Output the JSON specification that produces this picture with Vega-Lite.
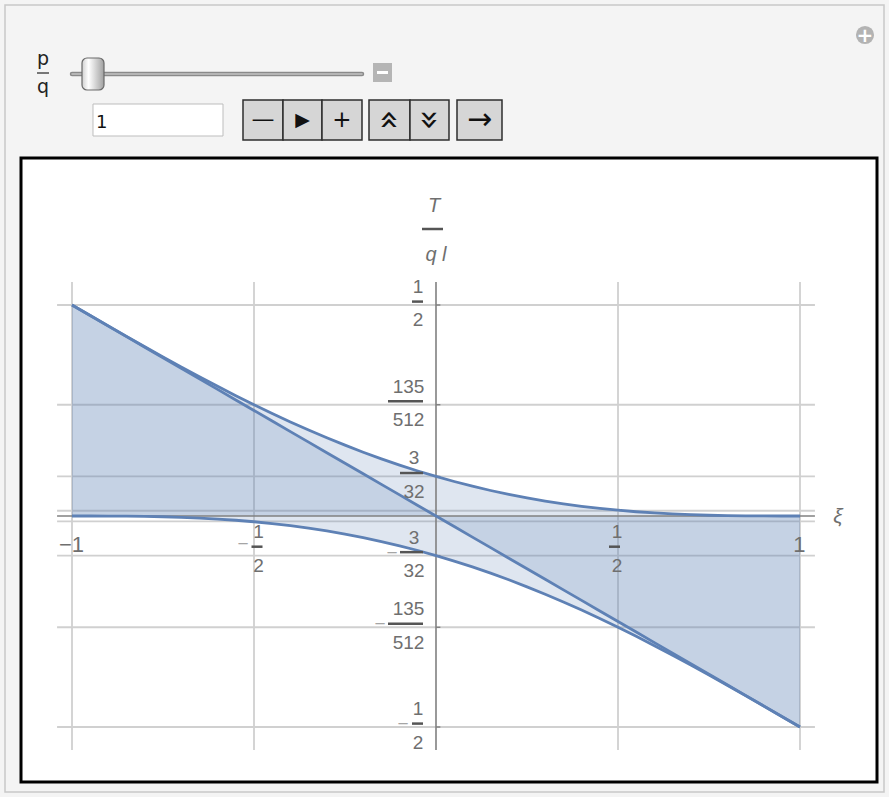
{
  "$schema": "https://vega.github.io/schema/vega-lite/v6.json",
  "width": 856,
  "height": 624,
  "autosize": {"type": "none"},
  "padding": {"left": 21, "top": 158, "right": 12, "bottom": 15},
  "background": "#f4f4f4",
  "config": {"view": {"fill": "white", "stroke": "black", "strokeWidth": 3}, "font": "Liberation Sans"},
  "datasets": {
    "curves": [
      {"xi": -1.0, "upper": 0.5, "lower": 0, "line": 0.5},
      {"xi": -0.95, "upper": 0.47502, "lower": -0.00002, "line": 0.475},
      {"xi": -0.9, "upper": 0.45012, "lower": -0.00012, "line": 0.45},
      {"xi": -0.85, "upper": 0.42541, "lower": -0.00041, "line": 0.425},
      {"xi": -0.8, "upper": 0.40095, "lower": -0.00095, "line": 0.4},
      {"xi": -0.75, "upper": 0.37683, "lower": -0.00183, "line": 0.375},
      {"xi": -0.7, "upper": 0.35312, "lower": -0.00312, "line": 0.35},
      {"xi": -0.65, "upper": 0.32989, "lower": -0.00489, "line": 0.325},
      {"xi": -0.6, "upper": 0.3072, "lower": -0.0072, "line": 0.3},
      {"xi": -0.55, "upper": 0.28511, "lower": -0.01011, "line": 0.275},
      {"xi": -0.5, "upper": 0.26367, "lower": -0.01367, "line": 0.25},
      {"xi": -0.45, "upper": 0.24294, "lower": -0.01794, "line": 0.225},
      {"xi": -0.4, "upper": 0.22295, "lower": -0.02295, "line": 0.2},
      {"xi": -0.35, "upper": 0.20375, "lower": -0.02875, "line": 0.175},
      {"xi": -0.3, "upper": 0.18537, "lower": -0.03537, "line": 0.15},
      {"xi": -0.25, "upper": 0.16785, "lower": -0.04285, "line": 0.125},
      {"xi": -0.2, "upper": 0.1512, "lower": -0.0512, "line": 0.1},
      {"xi": -0.15, "upper": 0.13545, "lower": -0.06045, "line": 0.075},
      {"xi": -0.1, "upper": 0.12062, "lower": -0.07062, "line": 0.05},
      {"xi": -0.05, "upper": 0.10672, "lower": -0.08172, "line": 0.025},
      {"xi": 0.0, "upper": 0.09375, "lower": -0.09375, "line": 0},
      {"xi": 0.05, "upper": 0.08172, "lower": -0.10672, "line": -0.025},
      {"xi": 0.1, "upper": 0.07062, "lower": -0.12062, "line": -0.05},
      {"xi": 0.15, "upper": 0.06045, "lower": -0.13545, "line": -0.075},
      {"xi": 0.2, "upper": 0.0512, "lower": -0.1512, "line": -0.1},
      {"xi": 0.25, "upper": 0.04285, "lower": -0.16785, "line": -0.125},
      {"xi": 0.3, "upper": 0.03537, "lower": -0.18537, "line": -0.15},
      {"xi": 0.35, "upper": 0.02875, "lower": -0.20375, "line": -0.175},
      {"xi": 0.4, "upper": 0.02295, "lower": -0.22295, "line": -0.2},
      {"xi": 0.45, "upper": 0.01794, "lower": -0.24294, "line": -0.225},
      {"xi": 0.5, "upper": 0.01367, "lower": -0.26367, "line": -0.25},
      {"xi": 0.55, "upper": 0.01011, "lower": -0.28511, "line": -0.275},
      {"xi": 0.6, "upper": 0.0072, "lower": -0.3072, "line": -0.3},
      {"xi": 0.65, "upper": 0.00489, "lower": -0.32989, "line": -0.325},
      {"xi": 0.7, "upper": 0.00312, "lower": -0.35312, "line": -0.35},
      {"xi": 0.75, "upper": 0.00183, "lower": -0.37683, "line": -0.375},
      {"xi": 0.8, "upper": 0.00095, "lower": -0.40095, "line": -0.4},
      {"xi": 0.85, "upper": 0.00041, "lower": -0.42541, "line": -0.425},
      {"xi": 0.9, "upper": 0.00012, "lower": -0.45012, "line": -0.45},
      {"xi": 0.95, "upper": 0.00002, "lower": -0.47502, "line": -0.475},
      {"xi": 1.0, "upper": 0, "lower": -0.5, "line": -0.5}
    ],
    "vgrid": [{"xi": -1}, {"xi": -0.5}, {"xi": 0.5}, {"xi": 1}],
    "hgrid": [{"t": 0.5}, {"t": 0.263672}, {"t": 0.09375}, {"t": 0.0125}, {"t": -0.0125}, {"t": -0.09375}, {"t": -0.263672}, {"t": -0.5}],
    "yticks": [
      {"t": 0.5, "frac": "1\n2", "kind": "s", "sign": ""},
      {"t": 0.263672, "frac": "135\n512", "kind": "l", "sign": ""},
      {"t": 0.09375, "frac": "3\n32", "kind": "m", "sign": ""},
      {"t": -0.09375, "frac": "3\n32", "kind": "m", "sign": "−"},
      {"t": -0.263672, "frac": "135\n512", "kind": "l", "sign": "−"},
      {"t": -0.5, "frac": "1\n2", "kind": "s", "sign": "−"}
    ],
    "xticks": [
      {"xi": -1, "label": "−1", "kind": "int", "sign": ""},
      {"xi": 1, "label": "1", "kind": "int", "sign": ""},
      {"xi": -0.5, "label": "1\n2", "kind": "negfrac", "sign": "−"},
      {"xi": 0.5, "label": "1\n2", "kind": "posfrac", "sign": ""}
    ],
    "titles": [{"ytop": "T", "ybottom": "q l", "xname": "ξ"}],
    "ui_boxes": [
      {"part": "panel", "x1": -1.18407, "x2": 1.23077, "y1": 1.2109, "y2": -0.65403},
      {"part": "input", "x1": -0.94231, "x2": -0.58516, "y1": 0.9763, "y2": 0.90047},
      {"part": "button", "x1": -0.53022, "x2": -0.42033, "y1": 0.98578, "y2": 0.891},
      {"part": "button", "x1": -0.42033, "x2": -0.31319, "y1": 0.98578, "y2": 0.891},
      {"part": "button", "x1": -0.31319, "x2": -0.2033, "y1": 0.98578, "y2": 0.891},
      {"part": "button", "x1": -0.18407, "x2": -0.07143, "y1": 0.98578, "y2": 0.891},
      {"part": "button", "x1": -0.07143, "x2": 0.03571, "y1": 0.98578, "y2": 0.891},
      {"part": "button", "x1": 0.05769, "x2": 0.18132, "y1": 0.98578, "y2": 0.891},
      {"part": "minusbox", "x1": -0.17308, "x2": -0.12088, "y1": 1.07346, "y2": 1.02844},
      {"part": "thumb", "x1": -0.97253, "x2": -0.91209, "y1": 1.08531, "y2": 1.00948}
    ],
    "ui_lines": [
      {"part": "track", "x1": -1.0, "x2": -0.2033, "y": 1.04739},
      {"part": "underline", "x1": -1.09615, "x2": -1.06319, "y": 1.04976},
      {"part": "dash", "x1": -0.16209, "x2": -0.13187, "y": 1.05095}
    ],
    "ui_text": [
      {"part": "label", "txt": "p", "x": -1.07967, "y": 1.06872},
      {"part": "label", "txt": "q", "x": -1.07967, "y": 1.00237},
      {"part": "value", "txt": "1", "x": -0.93407, "y": 0.91943},
      {"part": "glyph", "txt": "—", "x": -0.47527, "y": 0.93839},
      {"part": "play", "txt": "▶", "x": -0.36676, "y": 0.93839},
      {"part": "glyph", "txt": "+", "x": -0.25824, "y": 0.93839},
      {"part": "chev", "txt": "«", "x": -0.12775, "y": 0.93839},
      {"part": "chev", "txt": "»", "x": -0.01786, "y": 0.93839},
      {"part": "arrow", "txt": "→", "x": 0.11951, "y": 0.93839},
      {"part": "plus", "txt": "+", "x": 1.17857, "y": 1.13981}
    ]
  },
  "layer": [
    {
      "data": {"name": "vgrid"},
      "mark": {"type": "rule", "color": "#d0d0d0", "strokeWidth": 1.8},
      "encoding": {
        "x": {"field": "xi", "type": "quantitative", "scale": {"domain": [-1.14011, 1.21154], "nice": false, "zero": false}, "axis": null},
        "y": {"datum": 0.5545, "type": "quantitative", "scale": {"domain": [-0.63033, 0.84834], "nice": false, "zero": false}, "axis": null},
        "y2": {"datum": -0.5545}
      }
    },
    {
      "data": {"name": "hgrid"},
      "mark": {"type": "rule", "color": "#d0d0d0", "strokeWidth": 1.8},
      "encoding": {
        "x": {"datum": -1.041, "type": "quantitative", "scale": {"domain": [-1.14011, 1.21154], "nice": false, "zero": false}, "axis": null},
        "x2": {"datum": 1.041},
        "y": {"field": "t", "type": "quantitative", "scale": {"domain": [-0.63033, 0.84834], "nice": false, "zero": false}, "axis": null}
      }
    },
    {
      "data": {"name": "curves"},
      "mark": {"type": "area", "color": "#5e81b5", "opacity": 0.2},
      "encoding": {
        "x": {"field": "xi", "type": "quantitative", "scale": {"domain": [-1.14011, 1.21154], "nice": false, "zero": false}, "axis": null},
        "y": {"field": "upper", "type": "quantitative", "scale": {"domain": [-0.63033, 0.84834], "nice": false, "zero": false}, "axis": null},
        "y2": {"datum": 0}
      }
    },
    {
      "data": {"name": "curves"},
      "mark": {"type": "area", "color": "#5e81b5", "opacity": 0.2},
      "encoding": {
        "x": {"field": "xi", "type": "quantitative", "scale": {"domain": [-1.14011, 1.21154], "nice": false, "zero": false}, "axis": null},
        "y": {"field": "lower", "type": "quantitative", "scale": {"domain": [-0.63033, 0.84834], "nice": false, "zero": false}, "axis": null},
        "y2": {"datum": 0}
      }
    },
    {
      "data": {"name": "curves"},
      "mark": {"type": "area", "color": "#5e81b5", "opacity": 0.2},
      "encoding": {
        "x": {"field": "xi", "type": "quantitative", "scale": {"domain": [-1.14011, 1.21154], "nice": false, "zero": false}, "axis": null},
        "y": {"field": "line", "type": "quantitative", "scale": {"domain": [-0.63033, 0.84834], "nice": false, "zero": false}, "axis": null},
        "y2": {"datum": 0}
      }
    },
    {
      "data": {"name": "titles"},
      "mark": {"type": "rule", "color": "#808080", "strokeWidth": 1.6},
      "encoding": {
        "x": {"datum": -1.041, "type": "quantitative", "scale": {"domain": [-1.14011, 1.21154], "nice": false, "zero": false}, "axis": null},
        "x2": {"datum": 1.041},
        "y": {"datum": 0, "type": "quantitative", "scale": {"domain": [-0.63033, 0.84834], "nice": false, "zero": false}, "axis": null}
      }
    },
    {
      "data": {"name": "titles"},
      "mark": {"type": "rule", "color": "#808080", "strokeWidth": 1.6},
      "encoding": {
        "x": {"datum": 0, "type": "quantitative", "scale": {"domain": [-1.14011, 1.21154], "nice": false, "zero": false}, "axis": null},
        "y": {"datum": 0.5545, "type": "quantitative", "scale": {"domain": [-0.63033, 0.84834], "nice": false, "zero": false}, "axis": null},
        "y2": {"datum": -0.5545}
      }
    },
    {
      "data": {"name": "yticks"},
      "mark": {"type": "rule", "color": "#808080", "strokeWidth": 1.4},
      "encoding": {
        "x": {"datum": 0, "type": "quantitative", "scale": {"domain": [-1.14011, 1.21154], "nice": false, "zero": false}, "axis": null},
        "x2": {"datum": 0.012},
        "y": {"field": "t", "type": "quantitative", "scale": {"domain": [-0.63033, 0.84834], "nice": false, "zero": false}, "axis": null}
      }
    },
    {
      "data": {"name": "curves"},
      "mark": {"type": "line", "color": "#5e81b5", "strokeWidth": 2.8},
      "encoding": {
        "x": {"field": "xi", "type": "quantitative", "scale": {"domain": [-1.14011, 1.21154], "nice": false, "zero": false}, "axis": null},
        "y": {"field": "upper", "type": "quantitative", "scale": {"domain": [-0.63033, 0.84834], "nice": false, "zero": false}, "axis": null}
      }
    },
    {
      "data": {"name": "curves"},
      "mark": {"type": "line", "color": "#5e81b5", "strokeWidth": 2.8},
      "encoding": {
        "x": {"field": "xi", "type": "quantitative", "scale": {"domain": [-1.14011, 1.21154], "nice": false, "zero": false}, "axis": null},
        "y": {"field": "lower", "type": "quantitative", "scale": {"domain": [-0.63033, 0.84834], "nice": false, "zero": false}, "axis": null}
      }
    },
    {
      "data": {"name": "curves"},
      "mark": {"type": "line", "color": "#5e81b5", "strokeWidth": 2.8},
      "encoding": {
        "x": {"field": "xi", "type": "quantitative", "scale": {"domain": [-1.14011, 1.21154], "nice": false, "zero": false}, "axis": null},
        "y": {"field": "line", "type": "quantitative", "scale": {"domain": [-0.63033, 0.84834], "nice": false, "zero": false}, "axis": null}
      }
    },
    {
      "data": {"name": "yticks"},
      "transform": [{"filter": "datum.kind == 's'"}],
      "mark": {"type": "text", "align": "center", "baseline": "alphabetic", "dx": -18, "dy": -12, "lineBreak": "\n", "lineHeight": 33.5, "fontSize": 19, "color": "#6f6f6f"},
      "encoding": {
        "x": {"datum": 0, "type": "quantitative", "scale": {"domain": [-1.14011, 1.21154], "nice": false, "zero": false}, "axis": null},
        "y": {"field": "t", "type": "quantitative", "scale": {"domain": [-0.63033, 0.84834], "nice": false, "zero": false}, "axis": null},
        "text": {"field": "frac"}
      }
    },
    {
      "data": {"name": "yticks"},
      "transform": [{"filter": "datum.kind == 'm'"}],
      "mark": {"type": "text", "align": "center", "baseline": "alphabetic", "dx": -22, "dy": -12, "lineBreak": "\n", "lineHeight": 33.5, "fontSize": 19, "color": "#6f6f6f"},
      "encoding": {
        "x": {"datum": 0, "type": "quantitative", "scale": {"domain": [-1.14011, 1.21154], "nice": false, "zero": false}, "axis": null},
        "y": {"field": "t", "type": "quantitative", "scale": {"domain": [-0.63033, 0.84834], "nice": false, "zero": false}, "axis": null},
        "text": {"field": "frac"}
      }
    },
    {
      "data": {"name": "yticks"},
      "transform": [{"filter": "datum.kind == 'l'"}],
      "mark": {"type": "text", "align": "center", "baseline": "alphabetic", "dx": -27.5, "dy": -12, "lineBreak": "\n", "lineHeight": 33.5, "fontSize": 19, "color": "#6f6f6f"},
      "encoding": {
        "x": {"datum": 0, "type": "quantitative", "scale": {"domain": [-1.14011, 1.21154], "nice": false, "zero": false}, "axis": null},
        "y": {"field": "t", "type": "quantitative", "scale": {"domain": [-0.63033, 0.84834], "nice": false, "zero": false}, "axis": null},
        "text": {"field": "frac"}
      }
    },
    {
      "data": {"name": "yticks"},
      "transform": [{"filter": "datum.kind == 's'"}],
      "mark": {"type": "tick", "orient": "horizontal", "size": 11, "thickness": 2.5, "xOffset": -18.5, "yOffset": -3.4, "color": "#555555", "opacity": 1},
      "encoding": {
        "x": {"datum": 0, "type": "quantitative", "scale": {"domain": [-1.14011, 1.21154], "nice": false, "zero": false}, "axis": null},
        "y": {"field": "t", "type": "quantitative", "scale": {"domain": [-0.63033, 0.84834], "nice": false, "zero": false}, "axis": null}
      }
    },
    {
      "data": {"name": "yticks"},
      "transform": [{"filter": "datum.kind == 'm'"}],
      "mark": {"type": "tick", "orient": "horizontal", "size": 23, "thickness": 2.5, "xOffset": -24.5, "yOffset": -3.4, "color": "#555555", "opacity": 1},
      "encoding": {
        "x": {"datum": 0, "type": "quantitative", "scale": {"domain": [-1.14011, 1.21154], "nice": false, "zero": false}, "axis": null},
        "y": {"field": "t", "type": "quantitative", "scale": {"domain": [-0.63033, 0.84834], "nice": false, "zero": false}, "axis": null}
      }
    },
    {
      "data": {"name": "yticks"},
      "transform": [{"filter": "datum.kind == 'l'"}],
      "mark": {"type": "tick", "orient": "horizontal", "size": 35, "thickness": 2.5, "xOffset": -30.5, "yOffset": -3.4, "color": "#555555", "opacity": 1},
      "encoding": {
        "x": {"datum": 0, "type": "quantitative", "scale": {"domain": [-1.14011, 1.21154], "nice": false, "zero": false}, "axis": null},
        "y": {"field": "t", "type": "quantitative", "scale": {"domain": [-0.63033, 0.84834], "nice": false, "zero": false}, "axis": null}
      }
    },
    {
      "data": {"name": "yticks"},
      "transform": [{"filter": "datum.kind == 's' && datum.sign != ''"}],
      "mark": {"type": "text", "align": "center", "baseline": "middle", "dx": -33, "dy": -3, "fontSize": 19, "color": "#a5a5a5"},
      "encoding": {
        "x": {"datum": 0, "type": "quantitative", "scale": {"domain": [-1.14011, 1.21154], "nice": false, "zero": false}, "axis": null},
        "y": {"field": "t", "type": "quantitative", "scale": {"domain": [-0.63033, 0.84834], "nice": false, "zero": false}, "axis": null},
        "text": {"field": "sign"}
      }
    },
    {
      "data": {"name": "yticks"},
      "transform": [{"filter": "datum.kind == 'm' && datum.sign != ''"}],
      "mark": {"type": "text", "align": "center", "baseline": "middle", "dx": -44, "dy": -3, "fontSize": 19, "color": "#a5a5a5"},
      "encoding": {
        "x": {"datum": 0, "type": "quantitative", "scale": {"domain": [-1.14011, 1.21154], "nice": false, "zero": false}, "axis": null},
        "y": {"field": "t", "type": "quantitative", "scale": {"domain": [-0.63033, 0.84834], "nice": false, "zero": false}, "axis": null},
        "text": {"field": "sign"}
      }
    },
    {
      "data": {"name": "yticks"},
      "transform": [{"filter": "datum.kind == 'l' && datum.sign != ''"}],
      "mark": {"type": "text", "align": "center", "baseline": "middle", "dx": -56, "dy": -3, "fontSize": 19, "color": "#a5a5a5"},
      "encoding": {
        "x": {"datum": 0, "type": "quantitative", "scale": {"domain": [-1.14011, 1.21154], "nice": false, "zero": false}, "axis": null},
        "y": {"field": "t", "type": "quantitative", "scale": {"domain": [-0.63033, 0.84834], "nice": false, "zero": false}, "axis": null},
        "text": {"field": "sign"}
      }
    },
    {
      "data": {"name": "xticks"},
      "transform": [{"filter": "datum.kind == 'int'"}],
      "mark": {"type": "text", "align": "center", "baseline": "alphabetic", "dx": -0.5, "dy": 36, "fontSize": 22, "color": "#6f6f6f"},
      "encoding": {
        "x": {"field": "xi", "type": "quantitative", "scale": {"domain": [-1.14011, 1.21154], "nice": false, "zero": false}, "axis": null},
        "y": {"datum": 0, "type": "quantitative", "scale": {"domain": [-0.63033, 0.84834], "nice": false, "zero": false}, "axis": null},
        "text": {"field": "label"}
      }
    },
    {
      "data": {"name": "xticks"},
      "transform": [{"filter": "datum.kind == 'posfrac'"}],
      "mark": {"type": "text", "align": "center", "baseline": "alphabetic", "dx": -1, "dy": 22, "lineBreak": "\n", "lineHeight": 33.5, "fontSize": 19, "color": "#6f6f6f"},
      "encoding": {
        "x": {"field": "xi", "type": "quantitative", "scale": {"domain": [-1.14011, 1.21154], "nice": false, "zero": false}, "axis": null},
        "y": {"datum": 0, "type": "quantitative", "scale": {"domain": [-0.63033, 0.84834], "nice": false, "zero": false}, "axis": null},
        "text": {"field": "label"}
      }
    },
    {
      "data": {"name": "xticks"},
      "transform": [{"filter": "datum.kind == 'negfrac'"}],
      "mark": {"type": "text", "align": "center", "baseline": "alphabetic", "dx": 4.5, "dy": 22, "lineBreak": "\n", "lineHeight": 33.5, "fontSize": 19, "color": "#6f6f6f"},
      "encoding": {
        "x": {"field": "xi", "type": "quantitative", "scale": {"domain": [-1.14011, 1.21154], "nice": false, "zero": false}, "axis": null},
        "y": {"datum": 0, "type": "quantitative", "scale": {"domain": [-0.63033, 0.84834], "nice": false, "zero": false}, "axis": null},
        "text": {"field": "label"}
      }
    },
    {
      "data": {"name": "xticks"},
      "transform": [{"filter": "datum.kind == 'posfrac'"}],
      "mark": {"type": "tick", "orient": "horizontal", "size": 11, "thickness": 2.5, "xOffset": -3.5, "yOffset": 30.7, "color": "#555555", "opacity": 1},
      "encoding": {
        "x": {"field": "xi", "type": "quantitative", "scale": {"domain": [-1.14011, 1.21154], "nice": false, "zero": false}, "axis": null},
        "y": {"datum": 0, "type": "quantitative", "scale": {"domain": [-0.63033, 0.84834], "nice": false, "zero": false}, "axis": null}
      }
    },
    {
      "data": {"name": "xticks"},
      "transform": [{"filter": "datum.kind == 'negfrac'"}],
      "mark": {"type": "tick", "orient": "horizontal", "size": 11, "thickness": 2.5, "xOffset": 3, "yOffset": 30.7, "color": "#555555", "opacity": 1},
      "encoding": {
        "x": {"field": "xi", "type": "quantitative", "scale": {"domain": [-1.14011, 1.21154], "nice": false, "zero": false}, "axis": null},
        "y": {"datum": 0, "type": "quantitative", "scale": {"domain": [-0.63033, 0.84834], "nice": false, "zero": false}, "axis": null}
      }
    },
    {
      "data": {"name": "xticks"},
      "transform": [{"filter": "datum.kind == 'negfrac'"}],
      "mark": {"type": "text", "align": "center", "baseline": "middle", "dx": -11, "dy": 28, "fontSize": 19, "color": "#a5a5a5"},
      "encoding": {
        "x": {"field": "xi", "type": "quantitative", "scale": {"domain": [-1.14011, 1.21154], "nice": false, "zero": false}, "axis": null},
        "y": {"datum": 0, "type": "quantitative", "scale": {"domain": [-0.63033, 0.84834], "nice": false, "zero": false}, "axis": null},
        "text": {"field": "sign"}
      }
    },
    {
      "data": {"name": "titles"},
      "mark": {"type": "text", "align": "center", "baseline": "alphabetic", "dx": -2, "dy": -70, "fontSize": 20, "fontStyle": "italic", "color": "#6f6f6f"},
      "encoding": {
        "x": {"datum": 0, "type": "quantitative", "scale": {"domain": [-1.14011, 1.21154], "nice": false, "zero": false}, "axis": null},
        "y": {"datum": 0.5545, "type": "quantitative", "scale": {"domain": [-0.63033, 0.84834], "nice": false, "zero": false}, "axis": null},
        "text": {"field": "ytop"}
      }
    },
    {
      "data": {"name": "titles"},
      "mark": {"type": "tick", "orient": "horizontal", "size": 21, "thickness": 2.5, "xOffset": -3.5, "yOffset": -53, "color": "#555555", "opacity": 1},
      "encoding": {
        "x": {"datum": 0, "type": "quantitative", "scale": {"domain": [-1.14011, 1.21154], "nice": false, "zero": false}, "axis": null},
        "y": {"datum": 0.5545, "type": "quantitative", "scale": {"domain": [-0.63033, 0.84834], "nice": false, "zero": false}, "axis": null}
      }
    },
    {
      "data": {"name": "titles"},
      "mark": {"type": "text", "align": "center", "baseline": "alphabetic", "dx": 0, "dy": -21, "fontSize": 20, "fontStyle": "italic", "color": "#6f6f6f"},
      "encoding": {
        "x": {"datum": 0, "type": "quantitative", "scale": {"domain": [-1.14011, 1.21154], "nice": false, "zero": false}, "axis": null},
        "y": {"datum": 0.5545, "type": "quantitative", "scale": {"domain": [-0.63033, 0.84834], "nice": false, "zero": false}, "axis": null},
        "text": {"field": "ybottom"}
      }
    },
    {
      "data": {"name": "titles"},
      "mark": {"type": "text", "align": "center", "baseline": "middle", "dx": 23, "dy": 1, "fontSize": 21, "fontStyle": "italic", "color": "#6f6f6f"},
      "encoding": {
        "x": {"datum": 1.041, "type": "quantitative", "scale": {"domain": [-1.14011, 1.21154], "nice": false, "zero": false}, "axis": null},
        "y": {"datum": 0, "type": "quantitative", "scale": {"domain": [-0.63033, 0.84834], "nice": false, "zero": false}, "axis": null},
        "text": {"field": "xname"}
      }
    },
    {
      "data": {"name": "ui_boxes"},
      "transform": [{"filter": "datum.part == 'panel'"}],
      "mark": {"type": "rect", "filled": false, "stroke": "#c8c8c8", "strokeWidth": 1.5},
      "encoding": {
        "x": {"field": "x1", "type": "quantitative", "scale": {"domain": [-1.14011, 1.21154], "nice": false, "zero": false}, "axis": null},
        "x2": {"field": "x2"},
        "y": {"field": "y1", "type": "quantitative", "scale": {"domain": [-0.63033, 0.84834], "nice": false, "zero": false}, "axis": null},
        "y2": {"field": "y2"}
      }
    },
    {
      "data": {"name": "ui_boxes"},
      "transform": [{"filter": "datum.part == 'input'"}],
      "mark": {"type": "rect", "fill": "white", "stroke": "#bdbdbd", "strokeWidth": 1},
      "encoding": {
        "x": {"field": "x1", "type": "quantitative", "scale": {"domain": [-1.14011, 1.21154], "nice": false, "zero": false}, "axis": null},
        "x2": {"field": "x2"},
        "y": {"field": "y1", "type": "quantitative", "scale": {"domain": [-0.63033, 0.84834], "nice": false, "zero": false}, "axis": null},
        "y2": {"field": "y2"}
      }
    },
    {
      "data": {"name": "ui_boxes"},
      "transform": [{"filter": "datum.part == 'button'"}],
      "mark": {"type": "rect", "fill": "#d6d6d6", "stroke": "#2e2e2e", "strokeWidth": 1.5},
      "encoding": {
        "x": {"field": "x1", "type": "quantitative", "scale": {"domain": [-1.14011, 1.21154], "nice": false, "zero": false}, "axis": null},
        "x2": {"field": "x2"},
        "y": {"field": "y1", "type": "quantitative", "scale": {"domain": [-0.63033, 0.84834], "nice": false, "zero": false}, "axis": null},
        "y2": {"field": "y2"}
      }
    },
    {
      "data": {"name": "ui_boxes"},
      "transform": [{"filter": "datum.part == 'minusbox'"}],
      "mark": {"type": "rect", "fill": "#b5b5b5"},
      "encoding": {
        "x": {"field": "x1", "type": "quantitative", "scale": {"domain": [-1.14011, 1.21154], "nice": false, "zero": false}, "axis": null},
        "x2": {"field": "x2"},
        "y": {"field": "y1", "type": "quantitative", "scale": {"domain": [-0.63033, 0.84834], "nice": false, "zero": false}, "axis": null},
        "y2": {"field": "y2"}
      }
    },
    {
      "data": {"name": "ui_lines"},
      "transform": [{"filter": "datum.part == 'track'"}],
      "mark": {"type": "rule", "color": "#8a8a8a", "strokeWidth": 4.5, "strokeCap": "round"},
      "encoding": {
        "x": {"field": "x1", "type": "quantitative", "scale": {"domain": [-1.14011, 1.21154], "nice": false, "zero": false}, "axis": null},
        "x2": {"field": "x2"},
        "y": {"field": "y", "type": "quantitative", "scale": {"domain": [-0.63033, 0.84834], "nice": false, "zero": false}, "axis": null}
      }
    },
    {
      "data": {"name": "ui_lines"},
      "transform": [{"filter": "datum.part == 'track'"}],
      "mark": {"type": "rule", "color": "#c4c4c4", "strokeWidth": 1.5, "strokeCap": "round"},
      "encoding": {
        "x": {"field": "x1", "type": "quantitative", "scale": {"domain": [-1.14011, 1.21154], "nice": false, "zero": false}, "axis": null},
        "x2": {"field": "x2"},
        "y": {"field": "y", "type": "quantitative", "scale": {"domain": [-0.63033, 0.84834], "nice": false, "zero": false}, "axis": null}
      }
    },
    {
      "data": {"name": "ui_lines"},
      "transform": [{"filter": "datum.part == 'underline'"}],
      "mark": {"type": "rule", "color": "#222222", "strokeWidth": 1.2},
      "encoding": {
        "x": {"field": "x1", "type": "quantitative", "scale": {"domain": [-1.14011, 1.21154], "nice": false, "zero": false}, "axis": null},
        "x2": {"field": "x2"},
        "y": {"field": "y", "type": "quantitative", "scale": {"domain": [-0.63033, 0.84834], "nice": false, "zero": false}, "axis": null}
      }
    },
    {
      "data": {"name": "ui_lines"},
      "transform": [{"filter": "datum.part == 'dash'"}],
      "mark": {"type": "rule", "color": "#ffffff", "strokeWidth": 3},
      "encoding": {
        "x": {"field": "x1", "type": "quantitative", "scale": {"domain": [-1.14011, 1.21154], "nice": false, "zero": false}, "axis": null},
        "x2": {"field": "x2"},
        "y": {"field": "y", "type": "quantitative", "scale": {"domain": [-0.63033, 0.84834], "nice": false, "zero": false}, "axis": null}
      }
    },
    {
      "data": {"name": "ui_boxes"},
      "transform": [{"filter": "datum.part == 'thumb'"}],
      "mark": {"type": "rect", "cornerRadius": 5, "stroke": "#6a6a6a", "strokeWidth": 1.2, "fill": {"gradient": "linear", "x1": 0, "y1": 0, "x2": 1, "y2": 0, "stops": [{"offset": 0, "color": "#d0d0d0"}, {"offset": 0.3, "color": "#ffffff"}, {"offset": 1, "color": "#a0a0a0"}]}},
      "encoding": {
        "x": {"field": "x1", "type": "quantitative", "scale": {"domain": [-1.14011, 1.21154], "nice": false, "zero": false}, "axis": null},
        "x2": {"field": "x2"},
        "y": {"field": "y1", "type": "quantitative", "scale": {"domain": [-0.63033, 0.84834], "nice": false, "zero": false}, "axis": null},
        "y2": {"field": "y2"}
      }
    },
    {
      "data": {"name": "ui_text"},
      "transform": [{"filter": "datum.part == 'label'"}],
      "mark": {"type": "text", "align": "center", "baseline": "alphabetic", "fontSize": 19, "font": "DejaVu Sans", "color": "#222222"},
      "encoding": {
        "x": {"field": "x", "type": "quantitative", "scale": {"domain": [-1.14011, 1.21154], "nice": false, "zero": false}, "axis": null},
        "y": {"field": "y", "type": "quantitative", "scale": {"domain": [-0.63033, 0.84834], "nice": false, "zero": false}, "axis": null},
        "text": {"field": "txt"}
      }
    },
    {
      "data": {"name": "ui_text"},
      "transform": [{"filter": "datum.part == 'value'"}],
      "mark": {"type": "text", "align": "left", "baseline": "alphabetic", "fontSize": 18, "font": "DejaVu Sans", "color": "#111111"},
      "encoding": {
        "x": {"field": "x", "type": "quantitative", "scale": {"domain": [-1.14011, 1.21154], "nice": false, "zero": false}, "axis": null},
        "y": {"field": "y", "type": "quantitative", "scale": {"domain": [-0.63033, 0.84834], "nice": false, "zero": false}, "axis": null},
        "text": {"field": "txt"}
      }
    },
    {
      "data": {"name": "ui_text"},
      "transform": [{"filter": "datum.part == 'glyph'"}],
      "mark": {"type": "text", "align": "center", "baseline": "middle", "fontSize": 23, "font": "DejaVu Sans", "color": "#111111"},
      "encoding": {
        "x": {"field": "x", "type": "quantitative", "scale": {"domain": [-1.14011, 1.21154], "nice": false, "zero": false}, "axis": null},
        "y": {"field": "y", "type": "quantitative", "scale": {"domain": [-0.63033, 0.84834], "nice": false, "zero": false}, "axis": null},
        "text": {"field": "txt"}
      }
    },
    {
      "data": {"name": "ui_text"},
      "transform": [{"filter": "datum.part == 'play'"}],
      "mark": {"type": "text", "align": "center", "baseline": "middle", "fontSize": 19, "font": "DejaVu Sans", "color": "#111111"},
      "encoding": {
        "x": {"field": "x", "type": "quantitative", "scale": {"domain": [-1.14011, 1.21154], "nice": false, "zero": false}, "axis": null},
        "y": {"field": "y", "type": "quantitative", "scale": {"domain": [-0.63033, 0.84834], "nice": false, "zero": false}, "axis": null},
        "text": {"field": "txt"}
      }
    },
    {
      "data": {"name": "ui_text"},
      "transform": [{"filter": "datum.part == 'chev'"}],
      "mark": {"type": "text", "align": "center", "baseline": "middle", "angle": 90, "fontSize": 34, "font": "DejaVu Sans", "color": "#111111"},
      "encoding": {
        "x": {"field": "x", "type": "quantitative", "scale": {"domain": [-1.14011, 1.21154], "nice": false, "zero": false}, "axis": null},
        "y": {"field": "y", "type": "quantitative", "scale": {"domain": [-0.63033, 0.84834], "nice": false, "zero": false}, "axis": null},
        "text": {"field": "txt"}
      }
    },
    {
      "data": {"name": "ui_text"},
      "transform": [{"filter": "datum.part == 'arrow'"}],
      "mark": {"type": "text", "align": "center", "baseline": "middle", "fontSize": 30, "font": "DejaVu Sans", "color": "#111111"},
      "encoding": {
        "x": {"field": "x", "type": "quantitative", "scale": {"domain": [-1.14011, 1.21154], "nice": false, "zero": false}, "axis": null},
        "y": {"field": "y", "type": "quantitative", "scale": {"domain": [-0.63033, 0.84834], "nice": false, "zero": false}, "axis": null},
        "text": {"field": "txt"}
      }
    },
    {
      "data": {"name": "ui_text"},
      "transform": [{"filter": "datum.part == 'plus'"}],
      "mark": {"type": "point", "shape": "circle", "filled": true, "size": 330, "color": "#b3b3b3", "opacity": 1},
      "encoding": {
        "x": {"field": "x", "type": "quantitative", "scale": {"domain": [-1.14011, 1.21154], "nice": false, "zero": false}, "axis": null},
        "y": {"field": "y", "type": "quantitative", "scale": {"domain": [-0.63033, 0.84834], "nice": false, "zero": false}, "axis": null}
      }
    },
    {
      "data": {"name": "ui_text"},
      "transform": [{"filter": "datum.part == 'plus'"}],
      "mark": {"type": "text", "align": "center", "baseline": "middle", "dy": 1, "fontSize": 20, "fontWeight": "bold", "font": "DejaVu Sans", "color": "#ffffff"},
      "encoding": {
        "x": {"field": "x", "type": "quantitative", "scale": {"domain": [-1.14011, 1.21154], "nice": false, "zero": false}, "axis": null},
        "y": {"field": "y", "type": "quantitative", "scale": {"domain": [-0.63033, 0.84834], "nice": false, "zero": false}, "axis": null},
        "text": {"field": "txt"}
      }
    }
  ]
}
